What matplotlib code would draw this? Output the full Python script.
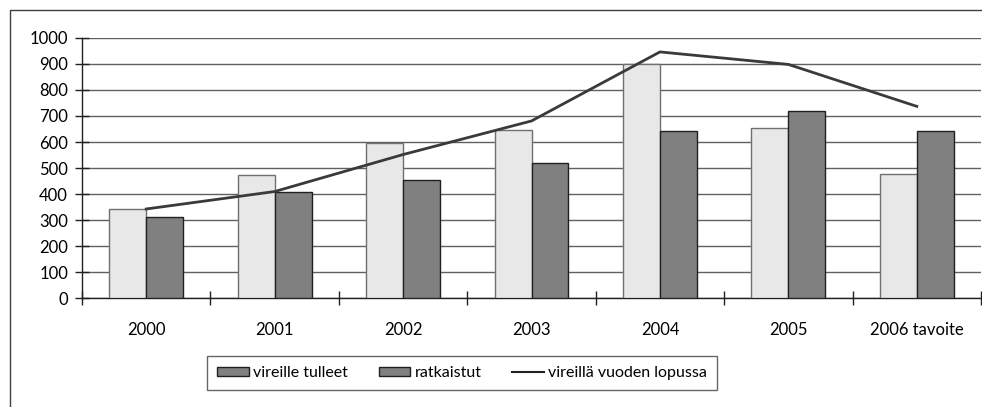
import numpy as np
import matplotlib.pyplot as plt
from matplotlib.patches import Patch, Rectangle
from matplotlib.lines import Line2D

plt.rcParams['font.family'] = ['Lato', 'DejaVu Sans']

categories = ['2000', '2001', '2002', '2003', '2004', '2005', '2006 tavoite']
vireille_tulleet = [343, 473, 597, 647, 898, 652, 477]
ratkaistut = [313, 407, 453, 518, 642, 718, 642]
vireilla_lopussa = [343, 410, 552, 681, 946, 898, 737]
yticks = list(range(0, 1001, 100))

fig = plt.figure(figsize=(9.82, 4.07), dpi=100)
ax = fig.add_axes([0.0835, 0.267, 0.9155, 0.64])

# outer frame
fig.patches.append(Rectangle((10 / 982, -0.1), 1.2, 1 - 10 / 407 + 0.1,
                             transform=fig.transFigure, fill=False,
                             edgecolor='#404040', linewidth=1))

x = np.arange(len(categories))
w = 0.288
ax.bar(x - w / 2, vireille_tulleet, w, color='#e8e8e8', edgecolor='#707070',
       linewidth=1, zorder=3)
ax.bar(x + w / 2, ratkaistut, w, color='#808080', edgecolor='#202020',
       linewidth=1, zorder=3)
ax.plot(x, vireilla_lopussa, color='#3a3a3a', linewidth=2, zorder=4)

ax.set_xlim(-0.5, len(categories) - 0.5)
ax.set_ylim(0, 1000)
ax.set_yticks(yticks)
ax.set_yticklabels([str(v) for v in yticks], fontsize=12)
ax.set_xticks(x)
ax.set_xticklabels(categories, fontsize=12)
ax.set_xticks(np.arange(-0.5, len(categories)), minor=True)
ax.tick_params(axis='x', which='major', length=0, pad=17)
ax.tick_params(axis='x', which='minor', direction='inout', length=10,
               width=1, color='#202020')
ax.tick_params(axis='y', direction='inout', length=10, width=1,
               color='#202020', pad=5)
ax.yaxis.grid(True, color='#606060', linewidth=1, zorder=0)
ax.set_axisbelow(True)
for s in ['top', 'right']:
    ax.spines[s].set_visible(False)
for s in ['left', 'bottom']:
    ax.spines[s].set_color('#202020')
    ax.spines[s].set_linewidth(1)

handles = [Patch(facecolor='#808080', edgecolor='#202020', linewidth=1),
           Patch(facecolor='#808080', edgecolor='#202020', linewidth=1),
           Line2D([0], [0], color='#202020', linewidth=1.5)]
labels = ['vireille tulleet', 'ratkaistut', 'vireillä vuoden lopussa']
leg = fig.legend(handles, labels, loc='center', ncol=3,
                 bbox_to_anchor=(462 / 982, 1 - 373 / 407), fontsize=11.5,
                 frameon=True, fancybox=False, edgecolor='#404040',
                 handlelength=2.0, handleheight=0.45, handletextpad=0.25,
                 columnspacing=1.9, borderpad=0.65, borderaxespad=0)
leg.get_frame().set_linewidth(1)

fig.savefig('out.png', dpi=100)
